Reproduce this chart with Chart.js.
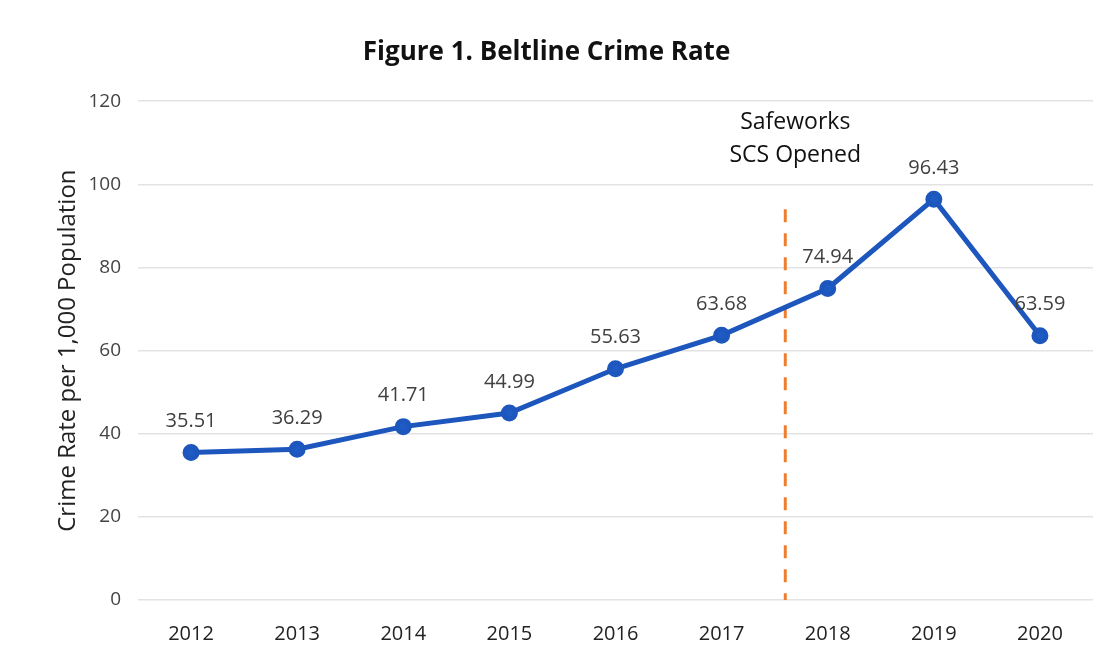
<!DOCTYPE html>
<html>
<head>
<meta charset="utf-8">
<script src="https://cdn.jsdelivr.net/npm/chart.js@4"></script>
<style>
  html, body { margin: 0; padding: 0; background: #fff; }
  #wrap { width: 1109px; height: 656px; }
</style>
</head>
<body>
<div id="wrap"><canvas id="crimeChart"></canvas></div>
<script>
const years = ["2012", "2013", "2014", "2015", "2016", "2017", "2018", "2019", "2020"];
const crimeRate = [35.51, 36.29, 41.71, 44.99, 55.63, 63.68, 74.94, 96.43, 63.59];
const yTicks = [0, 20, 40, 60, 80, 100, 120];

// Safeworks opening marker: category position and top of the dashed line
const markerPosition = 5.6;
const markerTop = 94;
const markerLabel = ["Safeworks", "SCS Opened"];

const FONT = "'Open Sans', sans-serif";

const valueLabels = {
    id: "valueLabels",
    afterDatasetsDraw(chart) {
        const ctx = chart.ctx;
        const meta = chart.getDatasetMeta(0);
        ctx.save();
        ctx.font = "20px " + FONT;
        ctx.fillStyle = "#404040";
        ctx.textAlign = "center";
        ctx.textBaseline = "middle";
        meta.data.forEach((pt, i) => {
            ctx.fillText(crimeRate[i].toFixed(2), pt.x, pt.y - 31);
        });
        ctx.restore();
    },
};

const openedMarker = {
    id: "openedMarker",
    beforeDatasetsDraw(chart) {
        const ctx = chart.ctx;
        const x = chart.scales.x.getPixelForValue(markerPosition);
        const yTop = chart.scales.y.getPixelForValue(markerTop);
        const yBottom = chart.scales.y.getPixelForValue(0);
        ctx.save();
        ctx.strokeStyle = "#ed7d31";
        ctx.lineWidth = 3;
        ctx.setLineDash([13, 11]);
        ctx.beginPath();
        ctx.moveTo(x, yTop);
        ctx.lineTo(x, yBottom);
        ctx.stroke();
        ctx.setLineDash([]);
        ctx.font = "23px " + FONT;
        ctx.fillStyle = "#111";
        ctx.textAlign = "center";
        ctx.textBaseline = "middle";
        ctx.fillText(markerLabel[0], x + 10, 122);
        ctx.fillText(markerLabel[1], x + 10, 155);
        ctx.restore();
    },
};

new Chart(document.getElementById("crimeChart"), {
    type: "line",
    data: {
        labels: years,
        datasets: [
            {
                label: "Crime Rate",
                data: crimeRate,
                borderColor: "#1d56bd",
                backgroundColor: "#1f5bc4",
                borderWidth: 5,
                pointRadius: 6,
                pointHoverRadius: 6,
                tension: 0,
            },
        ],
    },
    options: {
        responsive: true,
        maintainAspectRatio: false,
        animation: false,
        layout: { padding: { left: 0, right: 16, top: 0, bottom: 0 } },
        plugins: {
            legend: { display: false },
            tooltip: { enabled: false },
            title: {
                display: true,
                text: "Figure 1. Beltline Crime Rate",
                color: "#111",
                font: { family: FONT, size: 26, weight: "bold" },
                padding: { top: 37, bottom: 33 },
            },
        },
        scales: {
            x: {
                offset: true,
                afterFit(scale) {
                    scale.height = 56;
                },
                grid: { display: false },
                border: { display: false },
                ticks: {
                    color: "#222",
                    font: { family: FONT, size: 20 },
                    padding: 14,
                },
            },
            y: {
                min: 0,
                max: 120,
                afterFit(scale) {
                    scale.width = 138;
                },
                afterBuildTicks(scale) {
                    scale.ticks = yTicks.map((v) => ({ value: v }));
                },
                grid: { color: "#e3e3e3", lineWidth: 1.5, drawTicks: false },
                border: { display: false },
                ticks: {
                    color: "#444",
                    font: { family: FONT, size: 19 },
                    padding: 17,
                },
                title: {
                    display: true,
                    text: "Crime Rate per 1,000 Population",
                    color: "#222",
                    font: { family: FONT, size: 24 },
                    padding: { top: 54, bottom: 0 },
                },
            },
        },
    },
    plugins: [openedMarker, valueLabels],
});
</script>
</body>
</html>
